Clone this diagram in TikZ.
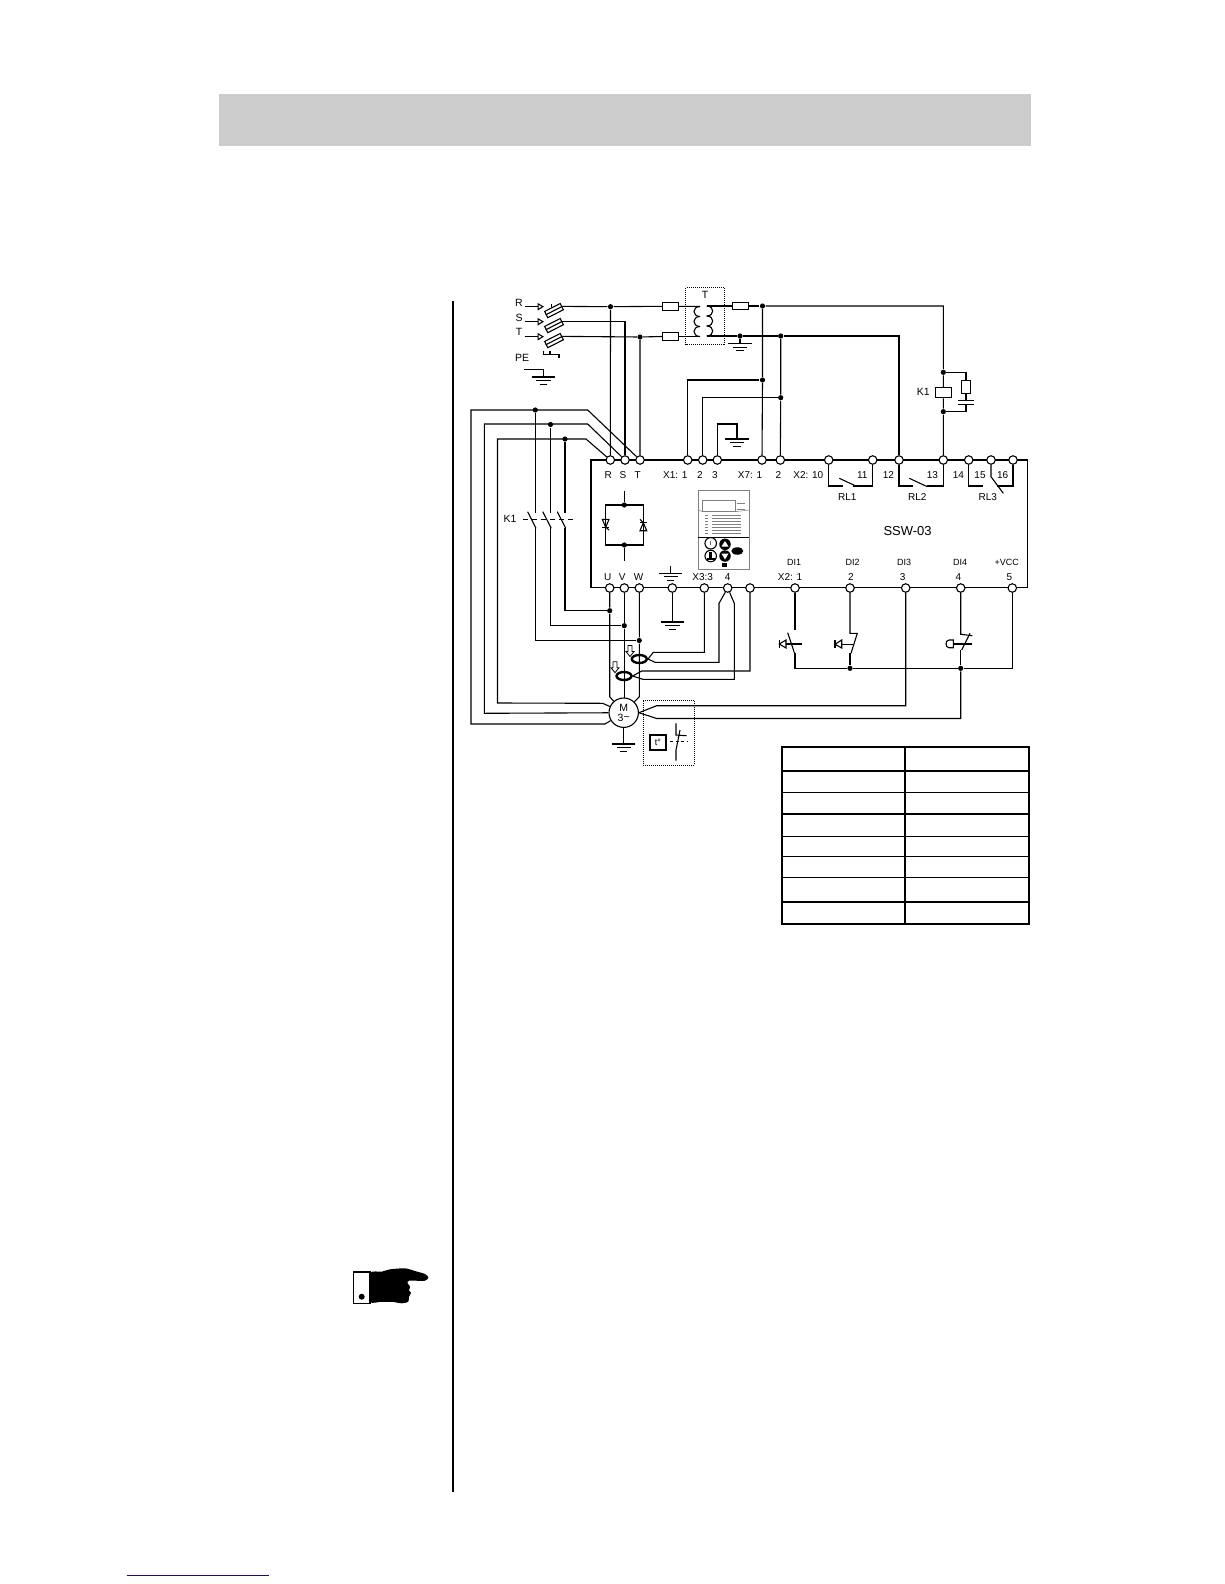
\documentclass[tikz,border=0pt]{standalone}
\usepackage{fontspec}
\setmainfont{Liberation Sans}
\usetikzlibrary{shapes.geometric,arrows.meta}
\definecolor{bandgray}{HTML}{CCCCCC}
\definecolor{linkblue}{HTML}{10107F}
\tikzset{
  wire/.style={line width=1.1pt},
  term/.style={circle,draw,fill=white,line width=1.1pt,minimum size=8.5pt,inner sep=0pt},
  jdot/.style={circle,fill=black,minimum size=5.2pt,inner sep=0pt},
  lbl/.style={font=\fontsize{10}{11}\selectfont,inner sep=0pt},
  biglbl/.style={font=\fontsize{10.5}{12}\selectfont,inner sep=0pt},
  tinylbl/.style={font=\fontsize{9}{10}\selectfont,inner sep=0pt},
  fusebox/.style={rectangle,draw,fill=white,line width=1.1pt,minimum width=15.5pt,minimum height=7.6pt,inner sep=0pt},
  ctcore/.style={ellipse,draw,fill=white,line width=2.4pt,minimum width=15pt,minimum height=8pt,inner sep=0pt},
  dotbox/.style={densely dotted,line width=1pt}
}
\begin{document}
\begin{tikzpicture}[x=1pt,y=-1pt,wire]
  \useasboundingbox (0,0) rectangle (1224,1584);
  \fill[bandgray] (219,94) rectangle (1030.7,145.7);
  \draw[line width=1.6pt] (452.7,301) -- (452.7,1491.7);
  \draw[linkblue,line width=1pt] (126.7,1575) -- (269,1575);

  % pointing hand
  \draw[line width=1.6pt,fill=white] (353.3,1271.7) rectangle (370,1303.3);
  \fill (361.7,1296.7) circle[radius=3pt];
  \fill (370,1273.5) rectangle (392,1301.5);
  \fill plot[smooth cycle,tension=0.4] coordinates {(370,1273.3) (381.7,1271.7) (390,1269.3) (405,1268.3) (415,1271) (425,1274) (428.3,1277.3) (425,1280.7) (409,1280.7) (407.7,1283.3) (410,1286.7) (409,1290.7) (411,1292.7) (409,1296.7) (408.3,1301.7) (401.7,1303.3) (391.7,1301.7) (381.7,1301.5) (370,1301.5)};

  % drive box and terminals
  \draw (591,460) rectangle (1027.3,587.7);
  \foreach \name/\x in {tR/610.3,tS/625,tT/640,tXa/687.7,tXb/702.7,tXc/717.3,tXg/762,tXh/780.3,tKa/828.7,tKb/872.7,tKc/899,tKd/943.3,tKe/968.7,tKf/991,tKg/1013}
    \node[term] (\name) at (\x,460) {};
  \foreach \name/\x in {tU/609.7,tV/624.3,tW/639.3,tG/672.3,tCa/704.3,tCb/727.7,tCc/750,tDa/795,tDb/850,tDc/905.7,tDd/960.7,tDe/1012.3}
    \node[term] (\name) at (\x,588) {};
  \foreach \name/\x/\txt in {lbR/608.3/R,lbS/623/S,lbT/637.7/T,lbXa/675.3/X1: 1,lbXb/700/2,lbXc/715/3,lbXg/750/X7: 1,lbXh/778.3/2,lbKa/808.3/X2: 10,lbKb/862.3/11,lbKc/888.3/12,lbKd/932.3/13,lbKe/958.3/14,lbKf/980/15,lbKg/1002.7/16}
    \node[lbl] (\name) at (\x,475) {\txt};
  \foreach \name/\x/\txt in {lbRa/847.3/RL1,lbRb/917.3/RL2,lbRc/987.7/RL3}
    \node[lbl] (\name) at (\x,496.7) {\txt};
  \foreach \name/\x/\txt in {lbU/607.7/U,lbV/622.3/V,lbW/638.7/W,lbCa/702.7/X3:3,lbCb/727.7/4,lbDa/790/X2: 1,lbDb/851/2,lbDc/902.7/3,lbDd/958.3/4,lbDe/1009.3/5}
    \node[lbl] (\name) at (\x,577.5) {\txt};
  \foreach \name/\x/\txt in {lbIa/794/DI1,lbIb/852.7/DI2,lbIc/904/DI3,lbId/960/DI4,lbIe/1006.7/+VCC}
    \node[tinylbl] (\name) at (\x,562.3) {\txt};
  \node[font=\fontsize{13}{15}\selectfont,inner sep=0pt] (lbDrive) at (907.6,531) {SSW-03};

  % mains input
  \foreach \n/\y/\ly in {R/306.7/303,S/321.7/318,T/336.7/332}{
    \node[biglbl] (lbIn\n) at (519,\ly) {\n};
    \coordinate (aIn\n) at (525,\y);
    \coordinate (bIn\n) at (544,\y);
    \draw[-{Triangle[open,length=6.5pt,width=7.5pt]}] (aIn\n) -- (bIn\n);
    \node[fusebox,rotate=27,minimum width=17.5pt,minimum height=7pt] (f\n) at (554,\y+3.9) {};
    \draw (f\n.west) -- (f\n.east);
  }
  \draw (551.5,303.5) -- (551.5,307);
  \draw (543.3,350.7) -- (543.3,354.3) -- (559,354.3) -- (559,358.3);
  \draw (550,350.7) -- (550,354.3);
  \node[biglbl] (lbPE) at (522,358) {PE};
  \draw (524,369.3) -- (543.3,369.3) -- (543.3,377);

  \node[jdot] (jR) at (610.5,306.7) {};
  \node[jdot] (jT) at (640,337) {};
  \node[jdot] (jTr) at (740,336) {};
  \node[jdot] (jG) at (762.5,306) {};
  \node[jdot] (jH) at (780.7,336) {};
  \node[jdot] (jX) at (762.5,380) {};
  \node[jdot] (jY) at (780.7,397.7) {};
  \node[fusebox] (fcA) at (670.3,306.3) {};
  \node[fusebox] (fcB) at (670.3,336.5) {};
  \node[fusebox] (fcC) at (740.5,306) {};
  \coordinate (cpA) at (700,306.5);
  \coordinate (cpB) at (700,336.5);
  \coordinate (csA) at (706.7,306);
  \coordinate (csB) at (706.7,336);

  \draw (fR.east) -- (jR) -- (tR);
  \draw (jR) -- (fcA.west);
  \draw (fcA.east) -- (cpA);
  \draw (fS.east) -| (tS);
  \draw (fT.east) -- (jT) -- (tT);
  \draw (jT) -- (fcB.west);
  \draw (fcB.east) -- (cpB);
  \foreach \y in {306.5,316.5,326.5}
    \draw (700,\y) .. controls (692,\y) and (692,\y+10) .. (700,\y+10);
  \foreach \y in {306,316,326}
    \draw (706.7,\y) .. controls (714.7,\y) and (714.7,\y+10) .. (706.7,\y+10);
  \node[biglbl] (lbTr) at (705,295) {T};
  \draw[dotbox] (685.7,287.7) rectangle (724,344.3);
  \draw (csA) -- (fcC.west);
  \draw (fcC.east) -- (jG);
  \draw (csB) -- (jTr) -- (jH);
  \draw (jG) -- (jX) -- (tXg);
  \draw (jH) -- (jY) -- (tXh);
  \draw (jX) -| (tXa);
  \draw (jY) -| (tXb);
  \draw (tXc) |- (737,424) -- (737,439);
  \draw (jTr) -- (740,343.7);

  % grounds
  \foreach \x/\y in {543.3/377,740/343.7,737/439,670.7/573.3,672.3/622,623.7/744}{
    \draw (\x-11.7,\y) -- (\x+11.7,\y);
    \draw (\x-7.2,\y+3.6) -- (\x+7.2,\y+3.6);
    \draw (\x-3.6,\y+7.2) -- (\x+3.6,\y+7.2);
  }
  \draw (670.7,566) -- (670.7,573.3);
  \draw (tG) -- (672.3,622);

  % K1 coil with RC
  \node[jdot] (jKa) at (943.3,372.3) {};
  \node[jdot] (jKb) at (943.3,411.7) {};
  \node[rectangle,draw,fill=white,minimum width=15.6pt,minimum height=10.4pt,inner sep=0pt] (coilK) at (943.5,392.5) {};
  \node[rectangle,draw,fill=white,minimum width=8.3pt,minimum height=13.3pt,inner sep=0pt] (rK) at (966,386.7) {};
  \node[biglbl] (lbKa) at (923.3,392.3) {K1};
  \draw (jG) -| (jKa) -- (coilK) -- (jKb) -- (tKd);
  \draw (jKa) -| (rK);
  \draw (rK) -- (966,400.7);
  \draw (957.7,400.7) -- (974,400.7);
  \draw (957.7,404.3) -- (974,404.3);
  \draw (966,404.3) |- (jKb);
  \draw (jH) -| (tKc);

  % relays
  \draw (tKa) |- (843.3,486);
  \draw (tKb) |- (853.3,486);
  \draw (839.3,478.3) -- (857.3,486.7);
  \draw (tKc) |- (912.7,486);
  \draw (tKd) |- (926.7,486);
  \draw (909.3,478.3) -- (927.3,486.7);
  \draw (tKe) |- (983.3,486);
  \draw (tKf) -- (991,476.7) -- (1003.3,493.3);
  \draw (tKg) |- (996.7,486);

  % thyristors
  \node[jdot] (jSa) at (624.3,505) {};
  \node[jdot] (jSb) at (624.3,545) {};
  \draw (605.7,505) rectangle (643.3,545);
  \draw (624.3,490.7) -- (jSa);
  \draw (jSb) -- (624.3,560.7);
  \draw (602.3,519.3) -- (609,519.3) -- (605.7,527.3) -- cycle;
  \draw (602.3,527.3) -- (609,527.3);
  \draw (605.7,527.3) -- (609,530);
  \draw (640,530.7) -- (646.7,530.7) -- (643.3,522.7) -- cycle;
  \draw (640,522.7) -- (646.7,522.7);
  \draw (643.3,522.7) -- (640,519.3);

  % keypad
  \draw[gray,line width=0.6pt] (698.3,490.7) rectangle (749.3,569.3);
  \draw[gray,line width=0.5pt] (702.7,500.7) rectangle (735,511.7);
  \draw[gray,line width=0.5pt] (698.3,510) -- (702.7,511.7);
  \draw[gray,line width=0.5pt] (735,511.7) -- (749.3,510);
  \draw[line width=0.6pt,gray] (736.5,503.3) -- (745,503.3);
  \draw[line width=0.6pt,gray] (736.5,509) -- (745,509);
  \foreach \y in {515.5,518.5,521.5,524.5,527.5,530.5,533.5}{
    \draw[line width=0.9pt,gray] (705,\y) -- (707.5,\y);
    \draw[line width=0.9pt,gray] (712,\y) -- (741,\y);
  }
  \draw[line width=0.8pt] (698.3,537.3) -- (749.3,537.3);
  \node[circle,draw,fill=white,minimum size=11.5pt,inner sep=0pt,font=\fontsize{6}{6}\selectfont] (kStart) at (710.7,543.3) {I};
  \node[circle,draw,fill=white,minimum size=11.5pt,inner sep=0pt] (kStop) at (710.7,556) {};
  \fill (709.3,551.5) rectangle (712.1,558);
  \fill (706.5,558) rectangle (714.9,560);
  \node[circle,fill=black,minimum size=11.5pt,inner sep=0pt] (kUp) at (725,544.3) {};
  \node[circle,fill=black,minimum size=11.5pt,inner sep=0pt] (kDown) at (725,556) {};
  \fill[white] (721.5,546.5) -- (728.5,546.5) -- (725,541) -- cycle;
  \fill[white] (721.5,553.5) -- (728.5,553.5) -- (725,559.5) -- cycle;
  \node[ellipse,fill=black,minimum width=12pt,minimum height=7.5pt,inner sep=0pt] (kMenu) at (737.3,551) {};
  \fill (722,563) rectangle (726.5,567);

  % K1 contactor
  \node[jdot] (jTa) at (535.3,410) {};
  \node[jdot] (jTb) at (550.5,424.5) {};
  \node[jdot] (jTc) at (565,439) {};
  \node[jdot] (jU) at (609.7,610.7) {};
  \node[jdot] (jV) at (624.3,625.7) {};
  \node[jdot] (jW) at (639.3,640.5) {};
  \foreach \x/\a/\b in {535.3/jTa/jW,550.5/jTb/jV,565/jTc/jU}{
    \draw (\a) -- (\x,513);
    \draw (\x-7.7,511.7) -- (\x+0.7,528.3);
    \draw (\x,528.3) |- (\b);
  }
  \node[biglbl] (lbKb) at (510,519.3) {K1};
  \coordinate (kDa) at (523.3,519.3);
  \coordinate (kDb) at (573.3,519.3);
  \draw[dash pattern=on 5pt off 4pt] (kDa) -- (kDb);

  % motor
  \node[circle,draw,fill=white,minimum size=29.4pt,inner sep=0pt,align=center,font=\fontsize{10.5}{9.5}\selectfont] (motor) at (623.7,712.7) {M\\3\raisebox{0.5pt}{\textasciitilde}};
  \draw (tT) -- (587.7,410) -- (471,410) -- (471,724) -- (605,724) -- (motor);
  \draw (tS) -- (587.7,424) -- (484.3,424) -- (484.3,713.3) -- (motor);
  \draw (tR) -- (586,439) -- (497.5,439) -- (497.5,703) -- (602.7,703.3) -- (motor);
  \draw (motor) -- (623.7,744);

  % current transformers
  \node[ctcore] (ctA) at (639.3,659) {};
  \node[ctcore] (ctB) at (624,676) {};
  \draw (tU) -- (jU) -- (609.7,696.7) -- (motor);
  \draw (tV) -- (jV) -- (624.3,698);
  \draw (tW) -- (jW) -- (639.3,696.7) -- (motor);
  \foreach \x/\y in {630/645.5,615/661.7}
    \draw[fill=white,line width=0.8pt] (\x-2,\y) -- (\x+2,\y) -- (\x+2,\y+6) -- (\x+4,\y+6) -- (\x,\y+11) -- (\x-4,\y+6) -- (\x-2,\y+6) -- cycle;
  \draw (tCa) |- (653.3,652.3) -- (ctA.east);
  \draw (tCb) -- (719,603.3) |- (655,662.3) -- (ctA.east);
  \draw (tCb) -- (734.3,603.3) |- (642.7,679.3) -- (ctB.east);
  \draw (tCc) |- (641.7,671) -- (ctB.east);

  % PTC and thermal contact
  \draw[dotbox] (643.3,700.7) rectangle (694.3,765);
  \node[rectangle,draw,minimum width=16pt,minimum height=15pt,inner sep=0pt,font=\fontsize{9}{10}\selectfont] (thBox) at (658,742.5) {t°};
  \draw (motor.east) -- (656.7,705.7) -| (tDc);
  \draw (676,723.3) -- (676,735) -- (686.7,735.7);
  \draw (680,730) -- (676,750) -- (676,760.7);
  \coordinate (thDa) at (670,741.7);
  \coordinate (thDb) at (688.3,741.7);
  \draw[dash pattern=on 3pt off 2.5pt] (thDa) -- (thDb);

  % digital inputs
  \node[jdot] (jDb) at (850,668.3) {};
  \node[jdot] (jDd) at (960.7,668.3) {};
  \draw (tDa) -- (795,630);
  \draw (787.7,632.7) -- (794.5,653.3);
  \draw (tDb) -- (850,633.3) -- (857.3,633.3) -- (851,653.3);
  \draw (850,653.3) -- (jDb);
  \draw (tDd) -- (960.7,634.3) -- (972.3,635.7);
  \draw (970,633.3) -- (961.7,650);
  \draw (960.7,650) -- (jDd);
  \draw (795,653.3) |- (jDb) -- (jDd) -| (tDe);
  \draw (jDd) |- (656.7,718.5) -- (motor.east);
  \draw (786,644) -- (802.3,644);
  \draw (779.3,640) -- (779.3,648);
  \draw (779.3,644) -- (786,640) -- (786,648) -- cycle;
  \draw (841.7,644.3) -- (853.3,644.3);
  \draw (835,640) -- (835,648);
  \draw (835,644.3) -- (841.7,640) -- (841.7,648) -- cycle;
  \draw (953.3,644) -- (972.3,644);
  \draw (953.3,640) -- (949,640) .. controls (945,640) and (945,647.7) .. (949,647.7) -- (953.3,647.7) -- cycle;

  % table
  \draw[line width=1.9pt] (781.7,746.7) rectangle (1029,924.3);
  \draw[line width=1.3pt] (905,746.7) -- (905,924.3);
  \foreach \y in {771,792.7,814,836.7,856.7,877.7,902}
    \draw[line width=1.4pt] (781.7,\y) -- (1029,\y);
\end{tikzpicture}
\end{document}
